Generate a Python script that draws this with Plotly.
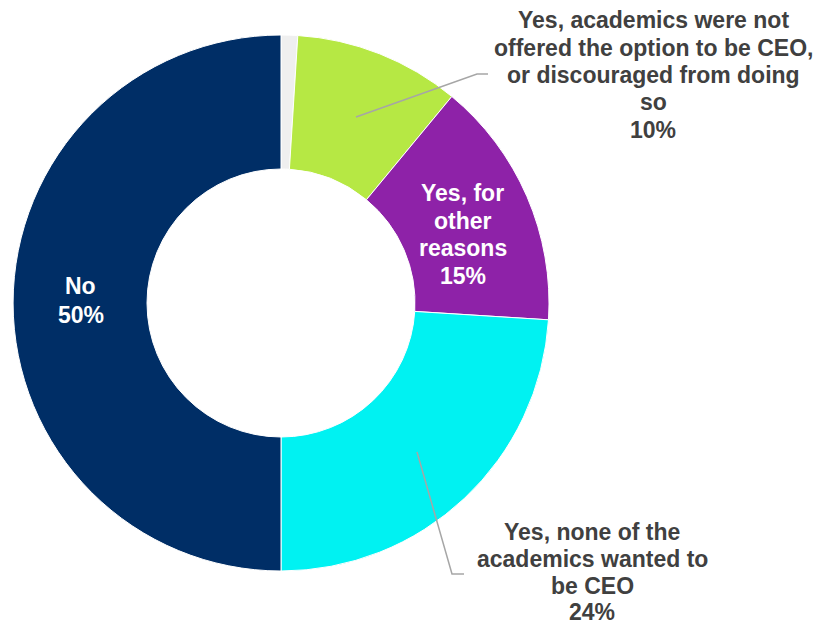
import plotly.graph_objects as go

# Survey answers, clockwise from 12 o'clock
categories = [
    "Other",
    "Yes, academics were not offered the option to be CEO, or discouraged from doing so",
    "Yes, for other reasons",
    "Yes, none of the academics wanted to be CEO",
    "No",
]
shares = [1, 10, 15, 24, 50]
colors = ["#EFEFEF", "#B6E844", "#8E22A8", "#00F2F2", "#002E66"]

W, H = 840, 627
FONT = "Liberation Sans, Arial, sans-serif"
SIZE = 23


def px(x):
    return x / W


def py(y):
    return 1 - y / H


fig = go.Figure(
    go.Pie(
        labels=categories,
        values=shares,
        marker=dict(colors=colors, line=dict(color="white", width=1)),
        hole=0.5,
        sort=False,
        direction="clockwise",
        rotation=0,
        textinfo="none",
        hoverinfo="label+percent",
        domain=dict(x=[px(13), px(549)], y=[py(571), py(35)]),
        showlegend=False,
    )
)


def label_block(lines, cx, first_baseline, color, pitch=27.5):
    """Stack centred lines of bold text with a fixed line pitch."""
    out = []
    for i, txt in enumerate(lines):
        base = first_baseline + i * pitch
        out.append(
            dict(
                x=px(cx), y=py(base - 8), xref="paper", yref="paper",
                text=f"<b>{txt}</b>", showarrow=False,
                xanchor="center", yanchor="middle",
                font=dict(family=FONT, size=SIZE, color=color),
            )
        )
    return out


pct = {c: f"{v}%" for c, v in zip(categories, shares)}
annotations = []
annotations += label_block(
    ["Yes, academics were not", "offered the option to be CEO,",
     "or discouraged from doing", "so", pct[categories[1]]],
    653, 28, "#404040")
annotations += label_block(
    ["Yes, for", "other", "reasons", pct[categories[2]]],
    462.5, 201, "white")
annotations += label_block(
    ["Yes, none of the", "academics wanted to", "be CEO", pct[categories[3]]],
    592, 540, "#404040", pitch=26.8)
annotations += label_block(["No", pct[categories[4]]], 80.5, 294, "white", pitch=28.5)

# Leader lines for the labels placed outside the ring
leader = dict(color="#A6A6A6", width=1.5)
shapes = [
    dict(type="path", xref="paper", yref="paper",
         path=f"M {px(356)} {py(117)} L {px(477)} {py(74)} L {px(488)} {py(74)}",
         line=leader),
    dict(type="path", xref="paper", yref="paper",
         path=f"M {px(417)} {py(452)} L {px(452)} {py(574)} L {px(464)} {py(574)}",
         line=leader),
]

fig.update_layout(
    width=W, height=H,
    margin=dict(l=0, r=0, t=0, b=0),
    paper_bgcolor="white",
    plot_bgcolor="white",
    annotations=annotations,
    shapes=shapes,
)

fig.write_html("out.html")
